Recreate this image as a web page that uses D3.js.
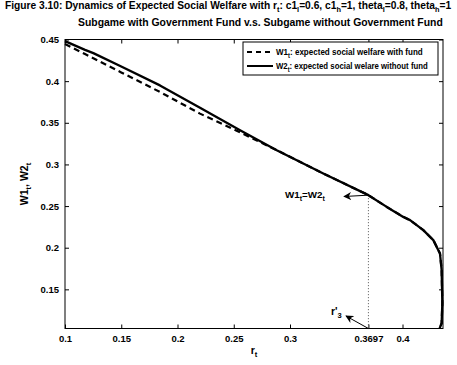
<!DOCTYPE html>
<html>
<head>
<meta charset="utf-8">
<script src="https://cdn.jsdelivr.net/npm/d3@7"></script>
<style>
  html, body { margin: 0; padding: 0; background: #fff; }
  svg { display: block; font-family: "Liberation Sans", Arial, sans-serif; font-weight: bold; }
</style>
</head>
<body>
<svg id="chart" width="457" height="365"></svg>
<script>
// r_t grid (the curve doubles back near its right end, so it is drawn as a path)
const rValues = [0.1, 0.1178, 0.1252, 0.15, 0.1844, 0.22, 0.2556, 0.2882, 0.3296, 0.3697,
                 0.386, 0.4007, 0.4067, 0.4185, 0.4274, 0.4333, 0.4348, 0.4354, 0.4348, 0.4330];
// W1_t: expected social welfare with fund
const w1Values = [0.4445, 0.4325, 0.4275, 0.4105, 0.387, 0.361, 0.3385, 0.3171, 0.2891, 0.2631,
                  0.249, 0.2370, 0.2331, 0.2211, 0.2091, 0.1931, 0.1732, 0.1334, 0.1094, 0.1032];
// W2_t: expected social welfare without fund
const w2Values = [0.448, 0.4376, 0.4336, 0.4175, 0.3949, 0.368, 0.3411, 0.3171, 0.2891, 0.2631,
                  0.249, 0.2370, 0.2331, 0.2211, 0.2091, 0.1931, 0.1732, 0.1334, 0.1094, 0.1032];
const xTicks = [0.1, 0.15, 0.2, 0.25, 0.3, 0.3697, 0.4];
const xTickLabels = ["0.1", "0.15", "0.2", "0.25", "0.3", "0.3697", "0.4"];
const yTicks = [0.15, 0.2, 0.25, 0.3, 0.35, 0.4, 0.45];
const yTickLabels = ["0.15", "0.2", "0.25", "0.3", "0.35", "0.4", "0.45"];
const crossR = 0.3697;
const crossW = 0.2631;
const xDomain = [0.1, 0.436];
const yDomain = [0.103, 0.45];

const svg = d3.select("#chart");
const plot = { left: 65, right: 443, top: 39.5, bottom: 328.5 };

const x = d3.scaleLinear().domain(xDomain).range([plot.left, plot.right]);
const y = d3.scaleLinear().domain(yDomain).range([plot.bottom, plot.top]);

// rich text helper: parts are [string, "n" | "sub"]
function rich(sel, parts, size) {
  let shifted = false;
  parts.forEach(([t, kind]) => {
    const ts = sel.append("tspan").text(t);
    if (kind === "sub") {
      ts.attr("font-size", size * 0.72).attr("dy", shifted ? 0 : size * 0.3);
      shifted = true;
    } else {
      ts.attr("font-size", size).attr("dy", shifted ? -size * 0.3 : 0);
      shifted = false;
    }
  });
  return sel;
}

// stretch or squeeze a left-anchored text horizontally to a given width
function fitWidth(sel, x0, width) {
  const w = sel.node().getBBox().width;
  const sx = width / w;
  sel.attr("transform", `translate(${x0},0) scale(${sx},1) translate(${-x0},0)`);
  return sel;
}

// titles
fitWidth(rich(svg.append("text").attr("x", 5).attr("y", 9.5).attr("fill", "#000"),
  [["Figure 3.10: Dynamics of Expected Social Welfare with r", "n"], ["t", "sub"],
   [": c1", "n"], ["l", "sub"], ["=0.6, c1", "n"], ["h", "sub"], ["=1, theta", "n"], ["l", "sub"],
   ["=0.8, theta", "n"], ["h", "sub"], ["=1", "n"]], 10), 5, 447);
fitWidth(svg.append("text").attr("x", 78).attr("y", 26.5).attr("font-size", 10.2).attr("fill", "#000")
  .text("Subgame with Government Fund v.s. Subgame without Government Fund"), 78, 365);

// plot background
svg.append("rect").attr("x", plot.left).attr("y", plot.top)
  .attr("width", plot.right - plot.left).attr("height", plot.bottom - plot.top)
  .attr("fill", "#fff");

// axes with inward ticks on all four sides
const tl = 4;
const xb = svg.append("g").attr("transform", `translate(0,${plot.bottom})`)
  .call(d3.axisBottom(x).tickValues(xTicks).tickSizeInner(-tl).tickSizeOuter(0)
    .tickFormat((d, i) => xTickLabels[i]).tickPadding(7));
const xt = svg.append("g").attr("transform", `translate(0,${plot.top})`)
  .call(d3.axisTop(x).tickValues(xTicks).tickSizeInner(-tl).tickSizeOuter(0).tickFormat(""));
const yl = svg.append("g").attr("transform", `translate(${plot.left},0)`)
  .call(d3.axisLeft(y).tickValues(yTicks).tickSizeInner(-tl).tickSizeOuter(0)
    .tickFormat((d, i) => yTickLabels[i]).tickPadding(6));
const yr = svg.append("g").attr("transform", `translate(${plot.right},0)`)
  .call(d3.axisRight(y).tickValues(yTicks).tickSizeInner(-tl).tickSizeOuter(0).tickFormat(""));
[xb, xt, yl, yr].forEach(g => {
  g.select(".domain").remove();
  g.selectAll("line").attr("stroke", "#000").attr("stroke-width", 1);
  g.selectAll("text").attr("font-size", 9.5).attr("font-family", "Liberation Sans, Arial, sans-serif")
    .attr("font-weight", "bold").attr("fill", "#000");
});
svg.append("rect").attr("x", plot.left).attr("y", plot.top)
  .attr("width", plot.right - plot.left).attr("height", plot.bottom - plot.top)
  .attr("fill", "none").attr("stroke", "#000").attr("stroke-width", 1);

// dotted guide at the crossing point
svg.append("line")
  .attr("x1", x(crossR)).attr("x2", x(crossR))
  .attr("y1", y(crossW)).attr("y2", y(yDomain[0]))
  .attr("stroke", "#555").attr("stroke-width", 1).attr("stroke-dasharray", "1,2");

// curves
const line = d3.line().x(d => x(d[0])).y(d => y(d[1]));
const w1Data = rValues.map((r, i) => [r, w1Values[i]]);
const w2Data = rValues.map((r, i) => [r, w2Values[i]]);
svg.append("path").datum(w2Data).attr("d", line)
  .attr("fill", "none").attr("stroke", "#000").attr("stroke-width", 2.3).attr("stroke-linejoin", "round");
svg.append("path").datum(w1Data).attr("d", line)
  .attr("fill", "none").attr("stroke", "#000").attr("stroke-width", 2.2).attr("stroke-dasharray", "6,4");

// legend
const lg = svg.append("g");
lg.append("rect").attr("x", 243).attr("y", 42).attr("width", 195).attr("height", 33)
  .attr("fill", "#fff").attr("stroke", "#000").attr("stroke-width", 1);
lg.append("line").attr("x1", 247).attr("x2", 273).attr("y1", 52).attr("y2", 52)
  .attr("stroke", "#000").attr("stroke-width", 2).attr("stroke-dasharray", "5,4");
lg.append("line").attr("x1", 247).attr("x2", 273).attr("y1", 66).attr("y2", 66)
  .attr("stroke", "#000").attr("stroke-width", 2);
fitWidth(rich(lg.append("text").attr("x", 276).attr("y", 55.5),
  [["W1", "n"], ["t", "sub"], [": expected social welfare with fund", "n"]], 9.5), 276, 147);
fitWidth(rich(lg.append("text").attr("x", 276).attr("y", 69.5),
  [["W2", "n"], ["t", "sub"], [": expected social welare without fund", "n"]], 9.5), 276, 152);

// axis titles
rich(svg.append("text").attr("text-anchor", "middle")
  .attr("transform", `translate(28,${(plot.top + plot.bottom) / 2}) rotate(-90)`),
  [["W1", "n"], ["t", "sub"], [", W2", "n"], ["t", "sub"]], 10.5);
rich(svg.append("text").attr("text-anchor", "middle").attr("x", (plot.left + plot.right) / 2).attr("y", 354),
  [["r", "n"], ["t", "sub"]], 10.5);

// annotations
const defs = svg.append("defs");
defs.append("marker").attr("id", "head").attr("viewBox", "0 0 10 10")
  .attr("refX", 9).attr("refY", 5).attr("markerWidth", 8).attr("markerHeight", 8)
  .attr("markerUnits", "userSpaceOnUse").attr("orient", "auto")
  .append("path").attr("d", "M0,0 L10,5 L0,10 L3,5 Z").attr("fill", "#000");

rich(svg.append("text").attr("x", 285).attr("y", 198),
  [["W1", "n"], ["t", "sub"], ["=W2", "n"], ["t", "sub"]], 9.8);
svg.append("line").attr("x1", x(crossR)).attr("y1", y(crossW))
  .attr("x2", 344).attr("y2", 196.5)
  .attr("stroke", "#000").attr("stroke-width", 1).attr("marker-end", "url(#head)");

rich(svg.append("text").attr("x", 331).attr("y", 314.5),
  [["r'", "n"], ["3", "sub"]], 10.5);
svg.append("line").attr("x1", x(crossR)).attr("y1", y(yDomain[0]))
  .attr("x2", 346).attr("y2", 316)
  .attr("stroke", "#000").attr("stroke-width", 1).attr("marker-end", "url(#head)");
</script>
</body>
</html>
